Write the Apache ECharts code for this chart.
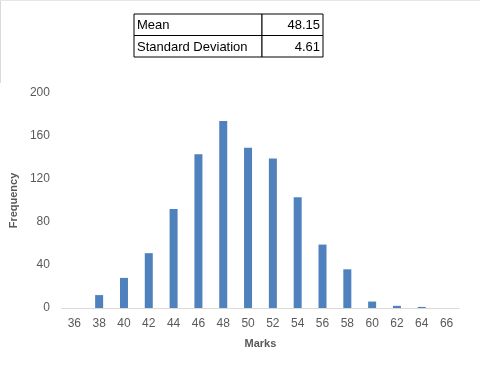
<!DOCTYPE html>
<html>
<head>
<meta charset="utf-8">
<script src="https://cdn.jsdelivr.net/npm/echarts@6/dist/echarts.min.js"></script>
<style>
  html, body { margin: 0; padding: 0; background: #fff; }
  #chart { width: 480px; height: 376px; }
</style>
</head>
<body>
<div id="chart"></div>
<script>
// data
const marks = ['36', '38', '40', '42', '44', '46', '48', '50', '52', '54', '56', '58', '60', '62', '64', '66']
const frequency = [0, 12, 28, 51, 92, 143, 174, 149, 139, 103, 59, 36, 6, 2, 1, 0]
const statLabels = ['Mean', 'Standard Deviation']
const statValues = ['48.15', '4.61']

const font = 'Liberation Sans, Arial, sans-serif'

// summary table drawn on top
const tableX = 134
const tableY = 14
const rowH = 21.5
const colW = [128, 61]
const tableCells = []
statLabels.forEach((label, i) => {
  const y = tableY + i * rowH
  tableCells.push(
    { type: 'rect', shape: { x: tableX, y: y, width: colW[0], height: rowH }, style: { fill: '#fff', stroke: '#000', lineWidth: 1 } },
    { type: 'rect', shape: { x: tableX + colW[0], y: y, width: colW[1], height: rowH }, style: { fill: '#fff', stroke: '#000', lineWidth: 1 } },
    { type: 'text', x: tableX + 3, y: y + rowH / 2 + 1, style: { text: label, font: '13px ' + font, fill: '#000', verticalAlign: 'middle' } },
    { type: 'text', x: tableX + colW[0] + colW[1] - 3, y: y + rowH / 2 + 1, style: { text: statValues[i], font: '13px ' + font, fill: '#000', align: 'right', verticalAlign: 'middle' } }
  )
})

const chart = echarts.init(document.getElementById('chart'), null, { renderer: 'canvas' })

const option = {
  animation: false,
  backgroundColor: '#fff',
  grid: { left: 60, right: 21, top: 93, bottom: 68 },
  xAxis: {
    type: 'category',
    data: marks,
    name: 'Marks',
    nameLocation: 'middle',
    nameGap: 30,
    nameTextStyle: { fontFamily: font, fontSize: 11, fontWeight: 'bold', color: '#595959' },
    axisLine: { lineStyle: { color: '#d9d9d9', width: 1 } },
    axisTick: { show: false },
    axisLabel: { fontFamily: font, fontSize: 12, color: '#595959', margin: 10 }
  },
  yAxis: {
    type: 'value',
    min: 0,
    max: 200,
    interval: 40,
    name: 'Frequency',
    nameLocation: 'middle',
    nameGap: 34,
    nameRotate: 90,
    nameTextStyle: { fontFamily: font, fontSize: 11, fontWeight: 'bold', color: '#595959' },
    axisLine: { show: false },
    axisTick: { show: false },
    splitLine: { show: false },
    axisLabel: { fontFamily: font, fontSize: 12, color: '#595959', margin: 12 }
  },
  series: [
    {
      type: 'bar',
      data: frequency,
      barWidth: 8,
      itemStyle: { color: '#4f81bd' }
    }
  ],
  graphic: [
    { type: 'line', shape: { x1: 0.5, y1: 0, x2: 0.5, y2: 83 }, style: { stroke: '#d9d9d9', lineWidth: 1 } },
    { type: 'line', shape: { x1: 0, y1: 0.5, x2: 480, y2: 0.5 }, style: { stroke: '#e6e6e6', lineWidth: 1 } }
  ].concat(tableCells)
}

chart.setOption(option)
</script>
</body>
</html>
